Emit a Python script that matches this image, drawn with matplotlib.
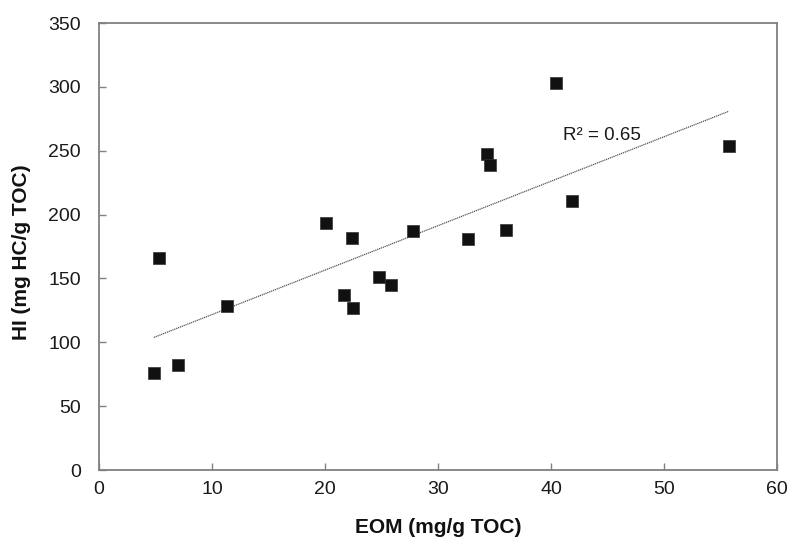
import numpy as np
import matplotlib
matplotlib.use("Agg")
import matplotlib.pyplot as plt

plt.rcParams["font.family"] = ["Liberation Sans", "DejaVu Sans"]

# Extractable organic matter vs hydrogen index, one point per sample
eom = [4.85, 6.98, 5.29, 11.33, 20.1, 22.36, 27.77, 24.78, 25.88,
       21.71, 22.48, 40.43, 34.37, 34.58, 41.88, 36.0, 32.65, 55.72]
hi = [76.3, 82.6, 166.2, 128.7, 193.5, 181.5, 187.3, 150.8, 144.8,
      136.7, 127.1, 302.9, 247.1, 238.8, 210.4, 188.3, 180.5, 253.7]

x_ticks = [0, 10, 20, 30, 40, 50, 60]
y_ticks = [0, 50, 100, 150, 200, 250, 300, 350]

GRAY = "#808080"

x = np.array(eom)
y = np.array(hi)
slope, intercept = np.polyfit(x, y, 1)
r2 = np.corrcoef(x, y)[0, 1] ** 2
x_fit = np.array([x.min(), x.max()])

fig = plt.figure(figsize=(7.9, 5.44), dpi=100)
fig.patch.set_facecolor("white")

ax = fig.add_axes([0.1253, 0.136, 0.8582, 0.9577 - 0.136])
ax.set_facecolor("white")

# linear trend through all samples
ax.plot(x_fit, slope * x_fit + intercept, linestyle=(0, (1, 0.6)),
        color="#555555", linewidth=0.9, zorder=2)
ax.scatter(x, y, marker="s", s=72, color="#111111", edgecolor="#333333",
           linewidth=0.5, zorder=3)

ax.text(41.1, 261.7, f"R² = {r2:.2f}", fontsize=13.5, ha="left", va="center",
        color="#1a1a1a")

ax.set_xlim(0, 60)
ax.set_ylim(0, 350)
ax.set_xticks(x_ticks)
ax.set_yticks(y_ticks)

for side in ["left", "right", "top", "bottom"]:
    ax.spines[side].set_color(GRAY)
    ax.spines[side].set_linewidth(1.3)

ax.tick_params(axis="both", direction="in", length=5, width=1, color=GRAY,
               labelsize=14, labelcolor="#1a1a1a")
ax.tick_params(axis="y", pad=13)
ax.tick_params(axis="x", pad=8)

ax.set_xlabel("EOM (mg/g TOC)", fontsize=15, fontweight="bold", va="center",
              color="#111111")
ax.set_ylabel("HI (mg HC/g TOC)", fontsize=15, fontweight="bold", va="center",
              color="#111111")
ax.xaxis.set_label_coords(0.5, -0.1275)
ax.yaxis.set_label_coords(-0.1136, 0.488)

fig.savefig("out.png", dpi=100)
